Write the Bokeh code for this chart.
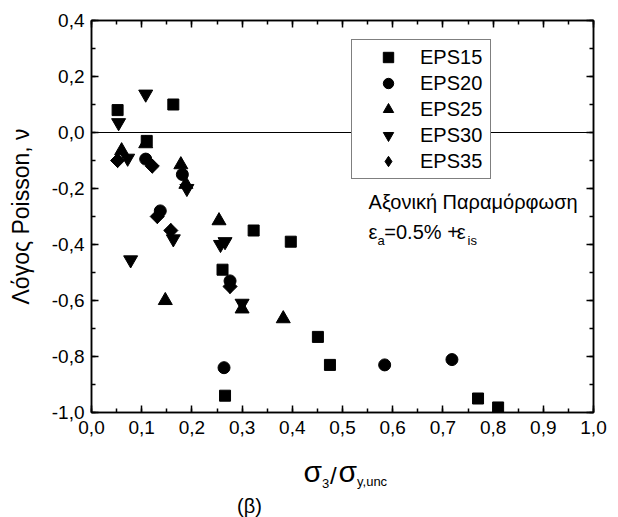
import numpy as np
from bokeh.plotting import figure
from bokeh.layouts import column
from bokeh.models import (Range1d, LinearAxis, SingleIntervalTicker, CustomJSTickFormatter,
                          Span, Legend, LegendItem, Label)
from bokeh.embed import file_html
from bokeh.resources import INLINE

# ---- data ----
eps15_x = [0.052, 0.163, 0.110, 0.261, 0.266, 0.323, 0.397, 0.451, 0.475, 0.770, 0.810]
eps15_y = [0.080, 0.100, -0.030, -0.490, -0.940, -0.350, -0.390, -0.730, -0.830, -0.950, -0.982]

eps20_x = [0.108, 0.181, 0.137, 0.276, 0.264, 0.584, 0.718]
eps20_y = [-0.095, -0.150, -0.280, -0.530, -0.840, -0.830, -0.811]

eps25_x = [0.060, 0.108, 0.178, 0.188, 0.254, 0.147, 0.300, 0.382]
eps25_y = [-0.065, -0.040, -0.115, -0.185, -0.315, -0.600, -0.630, -0.665]

eps30_x = [0.054, 0.108, 0.072, 0.190, 0.163, 0.257, 0.266, 0.078, 0.300]
eps30_y = [0.035, 0.137, -0.092, -0.200, -0.380, -0.400, -0.390, -0.455, -0.610]

eps35_x = [0.052, 0.121, 0.131, 0.158, 0.276]
eps35_y = [-0.100, -0.120, -0.300, -0.350, -0.550]

series_names = ["EPS15", "EPS20", "EPS25", "EPS30", "EPS35"]

FONT = "Liberation Sans"

# ---------------- main plot ----------------
p = figure(width=618, height=440, output_backend="svg", toolbar_location=None, title=None,
           x_range=Range1d(0, 1.0), y_range=Range1d(-1.0, 0.4),
           min_border_left=91, min_border_right=25, min_border_top=20, min_border_bottom=28,
           x_axis_type=None, y_axis_type=None, background_fill_color="white",
           border_fill_color="white")
p.outline_line_color = "black"
p.outline_line_width = 1.5

fmt_code = "const v = Math.abs(tick) < 1e-9 ? 0 : tick; return v.toFixed(1).replace('.', ',');"


def make_axis(interval, labels, standoff):
    ax = LinearAxis(ticker=SingleIntervalTicker(interval=interval, num_minor_ticks=2),
                    formatter=CustomJSTickFormatter(code=fmt_code if labels else "return '';"),
                    major_tick_in=7, major_tick_out=0, minor_tick_in=4, minor_tick_out=0,
                    axis_line_color="black", axis_line_width=1.5,
                    major_tick_line_color="black", major_tick_line_width=1.5,
                    minor_tick_line_color="black", minor_tick_line_width=1.5,
                    major_label_text_font=FONT, major_label_text_font_size="19px",
                    major_label_text_color="black", major_label_standoff=standoff)
    if not labels:
        ax.major_label_text_font_size = "0px"
    return ax


p.add_layout(make_axis(0.1, True, 8), "below")
yaxis = make_axis(0.2, True, 7)
yaxis.axis_label = "Λόγος Poisson, ν"
yaxis.axis_label_text_font = FONT
yaxis.axis_label_text_font_size = "23px"
yaxis.axis_label_text_font_style = "normal"
yaxis.axis_label_text_color = "black"
yaxis.axis_label_standoff = 15
p.add_layout(yaxis, "left")
p.add_layout(make_axis(0.1, False, 0), "above")
p.add_layout(make_axis(0.2, False, 0), "right")

p.add_layout(Span(location=0, dimension="width", line_color="black", line_width=1,
                  level="underlay"))

# legend swatch for the diamonds (legend draws markers unrotated); hidden under r35
r35_key = p.scatter(eps35_x, eps35_y, marker="diamond", size=14, color="black")
r15 = p.scatter(eps15_x, eps15_y, marker="square", size=11, color="black")
r20 = p.scatter(eps20_x, eps20_y, marker="circle", size=12, color="black")
r25 = p.scatter(eps25_x, eps25_y, marker="triangle", size=14, color="black")
r30 = p.scatter(eps30_x, eps30_y, marker="inverted_triangle", size=14, color="black")
r35 = p.scatter(eps35_x, eps35_y, marker="square", size=10, angle=np.pi / 4, color="black")

legend = Legend(items=[LegendItem(label=n, renderers=[r]) for n, r in
                       zip(series_names, [r15, r20, r25, r30, r35_key])],
                location=(260, 233), orientation="vertical", padding=4, spacing=0,
                glyph_height=26, glyph_width=64, label_height=26, label_width=66,
                label_standoff=0, margin=0, label_text_font=FONT,
                label_text_font_size="20px", label_text_color="black",
                label_text_baseline="middle",
                border_line_color="black", border_line_width=1,
                background_fill_color="white", background_fill_alpha=1.0)
p.add_layout(legend)


def add_text(fig, text, x, y, size, align="left", baseline="alphabetic"):
    fig.add_layout(Label(x=x, y=y, text=text, text_font=FONT, text_font_size=size,
                         text_color="black", text_align=align, text_baseline=baseline))


# annotation inside the plot
add_text(p, "Αξονική Παραμόρφωση", 0.552, -0.249, "20px")
add_text(p, "ε", 0.552, -0.355, "20px")
add_text(p, "a", 0.5697, -0.386, "13px")
add_text(p, "=0.5% +", 0.5833, -0.355, "20px")
add_text(p, "ε", 0.7277, -0.355, "20px")
add_text(p, "is", 0.749, -0.386, "13px")

# ---------------- strip below: x-axis title and caption ----------------
# frame spans page pixels x 91..593, y 440..517; ranges are set in page pixels
cap = figure(width=618, height=77, output_backend="svg", toolbar_location=None, title=None,
             x_range=Range1d(91, 593), y_range=Range1d(517, 440),
             min_border_left=91, min_border_right=25, min_border_top=0, min_border_bottom=0,
             x_axis_type=None, y_axis_type=None,
             background_fill_color="white", border_fill_color="white")
cap.outline_line_color = None

# σ3/σy,unc
add_text(cap, "σ", 303, 470.5, "30px")
add_text(cap, "3", 321.5, 482.5, "13px")
add_text(cap, "/", 329.5, 475, "24px")
add_text(cap, "σ", 338, 470.5, "30px")
add_text(cap, "y,unc", 356.5, 480.5, "13px")
# caption
add_text(cap, "(β)", 249, 505, "20px", align="center")

layout = column(p, cap, spacing=0)
open("out.html", "w").write(file_html(layout, INLINE))
